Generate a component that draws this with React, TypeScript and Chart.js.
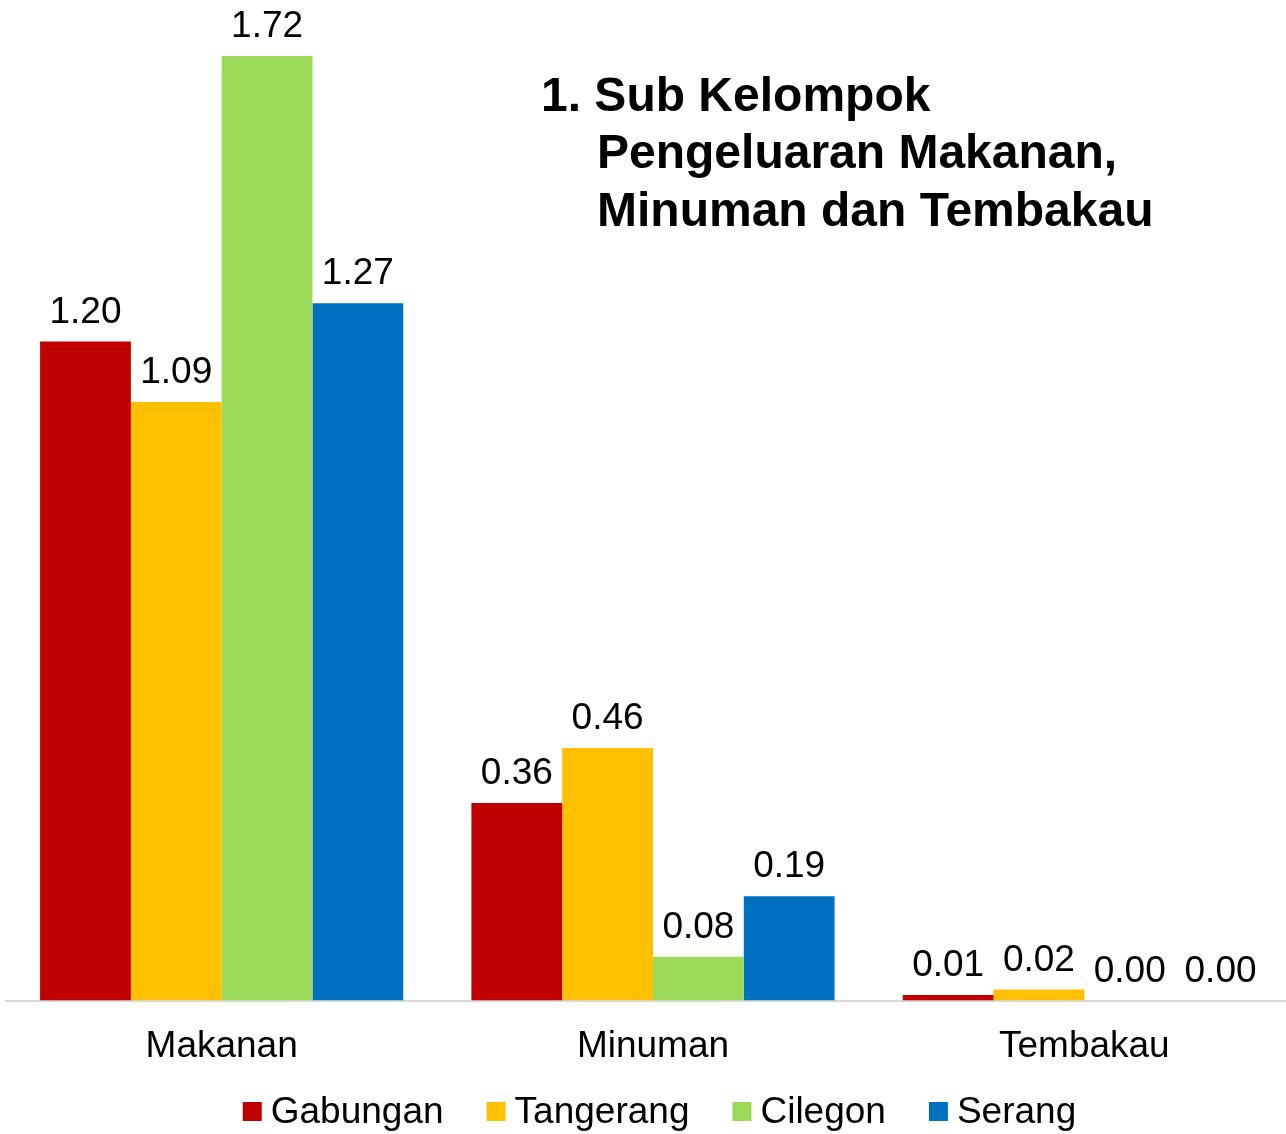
import React, { useEffect, useRef } from "react";
import { Chart, registerables } from "chart.js";

Chart.register(...registerables);

const categories = ["Makanan", "Minuman", "Tembakau"];
const seriesNames = ["Gabungan", "Tangerang", "Cilegon", "Serang"];
const gabungan = [1.2, 0.36, 0.01];
const tangerang = [1.09, 0.46, 0.02];
const cilegon = [1.72, 0.08, 0.0];
const serang = [1.27, 0.19, 0.0];
const seriesColors = ["#C00000", "#FFC000", "#9BDA59", "#0070C0"];
const titleLines = ["1. Sub Kelompok", "Pengeluaran Makanan,", "Minuman dan Tembakau"];

const FONT = "'Liberation Sans', Arial, sans-serif";

const labelPlugin = {
  id: "valueLabels",
  afterDatasetsDraw(chart: any) {
    const ctx = chart.ctx;
    ctx.save();
    ctx.font = `37px ${FONT}`;
    ctx.fillStyle = "#000";
    ctx.textAlign = "center";
    ctx.textBaseline = "alphabetic";
    chart.data.datasets.forEach((ds: any, i: number) => {
      const meta = chart.getDatasetMeta(i);
      meta.data.forEach((bar: any, j: number) => {
        const v = ds.data[j] as number;
        ctx.fillText(v.toFixed(2), bar.x, bar.y - 19);
      });
    });
    ctx.restore();
  },
};

const titleLegendPlugin = {
  id: "titleLegend",
  afterDraw(chart: any) {
    const ctx = chart.ctx;
    ctx.save();
    // title
    ctx.font = `bold 48px ${FONT}`;
    ctx.fillStyle = "#000";
    ctx.textAlign = "left";
    ctx.textBaseline = "alphabetic";
    const baselines = [111, 168, 226];
    titleLines.forEach((t, i) => {
      ctx.fillText(t, i === 0 ? 541 : 597, baselines[i]);
    });
    // legend
    ctx.font = `37px ${FONT}`;
    const box = 19;
    const gapBoxText = 9;
    const gapItems = 43;
    const widths = seriesNames.map((n) => ctx.measureText(n).width);
    const total =
      widths.reduce((a, w) => a + box + gapBoxText + w, 0) + gapItems * (seriesNames.length - 1);
    let x = 659.5 - total / 2;
    const cy = 1111.5;
    ctx.textBaseline = "middle";
    seriesNames.forEach((n, i) => {
      ctx.fillStyle = seriesColors[i];
      ctx.fillRect(x, cy - box / 2, box, box);
      ctx.fillStyle = "#000";
      ctx.fillText(n, x + box + gapBoxText, cy + 1);
      x += box + gapBoxText + widths[i] + gapItems;
    });
    ctx.restore();
  },
};

export default function App() {
  const ref = useRef<HTMLCanvasElement>(null);
  useEffect(() => {
    if (!ref.current) return;
    const values = [gabungan, tangerang, cilegon, serang];
    const chart = new Chart(ref.current, {
      type: "bar",
      data: {
        labels: categories,
        datasets: seriesNames.map((name, i) => ({
          label: name,
          data: values[i],
          backgroundColor: seriesColors[i],
          borderWidth: 0,
          barPercentage: 1,
          categoryPercentage: 0.842,
        })),
      },
      options: {
        responsive: false,
        animation: false,
        layout: { padding: { left: 6, right: 0, top: 0, bottom: 41 } },
        plugins: {
          legend: { display: false },
          tooltip: { enabled: false },
          title: { display: false },
        },
        scales: {
          y: { display: false, min: 0, max: 1.822 },
          x: {
            grid: { display: false, drawTicks: false },
            border: { display: true, color: "#d9d9d9", width: 2 },
            ticks: { color: "#000", font: { size: 37, family: FONT }, padding: 24 },
          },
        },
      },
      plugins: [labelPlugin, titleLegendPlugin],
    });
    return () => chart.destroy();
  }, []);
  return (
    <div
      style={{
        position: "fixed",
        left: 0,
        top: 0,
        width: 1286,
        height: 1134,
        overflow: "hidden",
        background: "#fff",
      }}
    >
      <canvas ref={ref} width={1300} height={1134} style={{ display: "block" }} />
    </div>
  );
}
